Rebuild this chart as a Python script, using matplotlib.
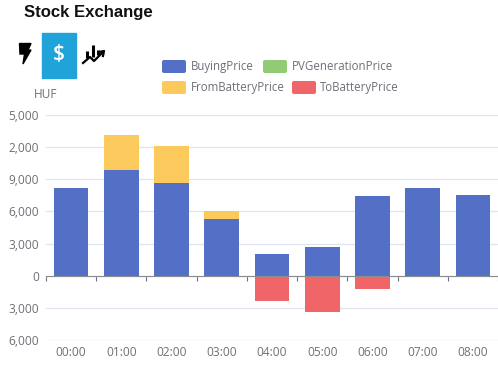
"""Stock exchange price chart."""
import matplotlib
matplotlib.use("Agg")
import matplotlib.pyplot as plt
from matplotlib.patches import FancyBboxPatch, Polygon, Rectangle

hours = ["00:00", "01:00", "02:00", "03:00", "04:00", "05:00", "06:00", "07:00", "08:00"]
buying_price = [8200, 9900, 8700, 5300, 2000, 2700, 7450, 8200, 7500]
pv_generation_price = [0, 0, 0, 0, 0, 0, 0, 0, 0]
from_battery_price = [0, 3200, 3450, 750, 0, 0, 0, 20, 20]
to_battery_price = [0, 0, 0, 0, -2400, -3350, -1200, 0, 0]
y_ticks = [15000, 12000, 9000, 6000, 3000, 0, -3000, -6000]
# the labels are cut off on the left in the original
y_tick_labels = ["5,000", "2,000", "9,000", "6,000", "3,000", "0", "3,000", "6,000"]

BLUE = "#5470c6"
GREEN = "#91cc75"
YELLOW = "#fcc95c"
RED = "#f06668"
TEXT = "#6e7079"
W, H = 498, 365

plt.rcParams["font.family"] = ["Open Sans", "DejaVu Sans"]

fig = plt.figure(figsize=(W / 100, H / 100), dpi=100)
ax = fig.add_axes([46 / W, 1 - 340 / H, 452 / W, 225 / H])

x = list(range(len(hours)))
bottoms = [b + p for b, p in zip(buying_price, pv_generation_price)]
ax.bar(x, buying_price, 0.69, color=BLUE, zorder=2)
ax.bar(x, pv_generation_price, 0.69, bottom=buying_price, color=GREEN, zorder=2)
ax.bar(x, from_battery_price, 0.69, bottom=bottoms, color=YELLOW, zorder=2)
ax.bar(x, to_battery_price, 0.69, color=RED, zorder=2)

ax.set_xlim(-0.5, len(hours) - 0.5)
ax.set_ylim(-6000, 15000)
ax.set_yticks(y_ticks, y_tick_labels, fontsize=8.6, color=TEXT)
ax.tick_params(axis="y", length=0, pad=5)
ax.grid(axis="y", color="#e0e6f1", lw=1, zorder=0)
ax.set_axisbelow(True)

# axis line sits on zero, labels stay at the bottom
for side in ["top", "right", "left"]:
    ax.spines[side].set_visible(False)
ax.spines["bottom"].set_position(("data", 0))
ax.spines["bottom"].set_color("#8a8c94")
ax.spines["bottom"].set_zorder(3)
ax.set_xticks([i - 0.5 for i in range(len(hours) + 1)], [""] * (len(hours) + 1))
ax.set_xticks(x, hours, minor=True, fontsize=8.6, color=TEXT)
ax.tick_params(axis="x", which="major", length=3.6, color=TEXT)
ax.tick_params(axis="x", which="minor", length=0, pad=50.5)

# overlay in pixel coordinates for title, icons and legend
ov = fig.add_axes([0, 0, 1, 1], zorder=5)
ov.set_xlim(0, W)
ov.set_ylim(H, 0)
ov.axis("off")
ov.patch.set_alpha(0)

ov.text(24, 12, "Stock Exchange", family="Liberation Sans", fontweight="bold",
        fontsize=12.05, color="#111111", va="center")
ov.text(46, 95, "HUF", fontsize=8.6, color=TEXT, ha="center", va="center")

ov.add_patch(Polygon([(19.5, 43.5), (31, 43.5), (28, 50), (31, 50), (23, 64), (24.5, 54), (20, 54)],
                     closed=True, color="black"))
ov.add_patch(Rectangle((42, 32.5), 34, 45.5, color="#1fa3d8"))
ov.text(59, 54.5, "$", color="white", fontsize=15, fontweight="semibold", ha="center", va="center")
ov.plot([83, 90, 94, 102], [63, 57, 61, 53], color="black", lw=1.6)
ov.plot([99, 104, 103], [52, 51, 56], color="black", lw=1.6)
ov.vlines([87, 93, 98], [51, 45, 50], [58, 57, 55], color="black", lw=2.2)


def legend_item(x0, y0, color, label, text_x):
    ov.add_patch(FancyBboxPatch((x0 + 2, y0 + 2), 20, 9, boxstyle="round,pad=2",
                                fc=color, ec="none"))
    ov.text(text_x, y0 + 6.5, label, fontsize=8.3, color=TEXT, va="center")


legend_item(162, 60, BLUE, "BuyingPrice", 191)
legend_item(263, 60, GREEN, "PVGenerationPrice", 292)
legend_item(162, 81, YELLOW, "FromBatteryPrice", 190.5)
legend_item(292, 81, RED, "ToBatteryPrice", 320)

fig.savefig("out.png", dpi=100)
plt.close(fig)
